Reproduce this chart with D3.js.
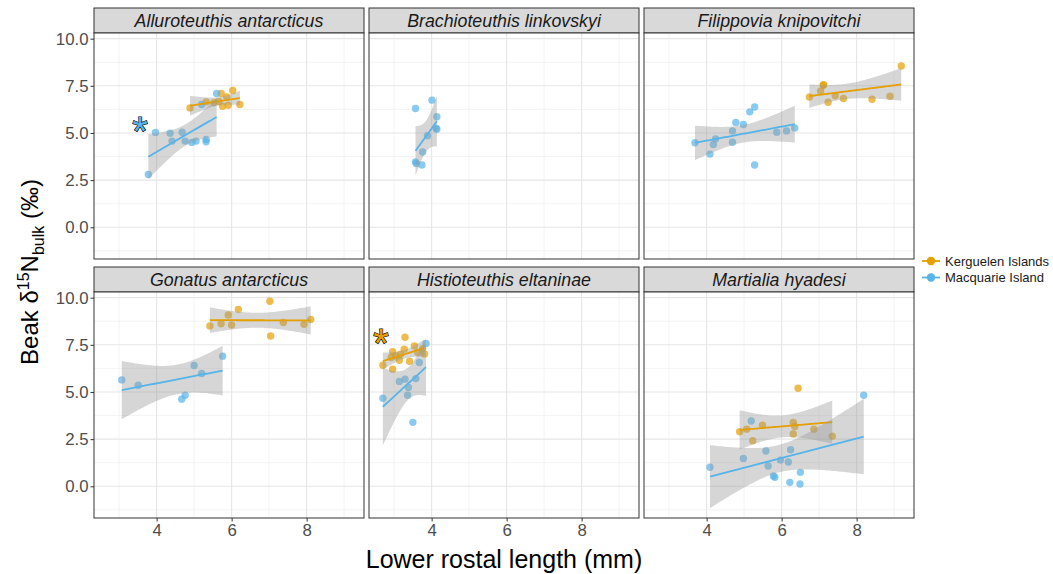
<!DOCTYPE html>
<html>
<head>
<meta charset="utf-8">
<script src="https://cdn.jsdelivr.net/npm/d3@7"></script>
<style>
  body { margin: 0; background: #fff; }
  text { font-family: "Liberation Sans", Arial, Helvetica, sans-serif; }
</style>
</head>
<body>
<svg></svg>
<script>
// ---- data ----
const species = ["Alluroteuthis antarcticus", "Brachioteuthis linkovskyi", "Filippovia knipovitchi",
                 "Gonatus antarcticus", "Histioteuthis eltaninae", "Martialia hyadesi"];
const regions = ["Kerguelen Islands", "Macquarie Island"];
const regionColors = ["#E69F00", "#56B4E9"];

const xTicks = [4, 6, 8];
const xMinor = [3, 5, 7, 9];
const yTicks = [0, 2.5, 5, 7.5, 10];
const yMinor = [-1.25, 1.25, 3.75, 6.25, 8.75];

// [lower rostral length, d15N]
const alluroKer = [[4.89,6.33],[5.32,6.65],[5.53,6.61],[5.72,7.09],[5.76,6.42],[5.87,6.91],[5.91,6.47],[6.03,7.25],[6.22,6.51],[5.66,6.67]];
const alluroMac = [[3.78,2.80],[3.97,5.03],[4.36,4.99],[4.41,4.57],[4.68,5.04],[4.76,4.57],[4.94,4.50],[5.05,4.57],[5.32,4.66],[5.32,4.53],[5.20,6.51],[5.60,7.09]];
const brachiMac = [[3.57,6.30],[4.01,6.74],[4.14,5.86],[4.14,5.20],[4.12,5.25],[3.89,4.85],[3.76,3.99],[3.57,3.47],[3.59,3.38],[3.74,3.30]];
const filippKer = [[6.74,6.91],[7.04,7.21],[7.12,7.56],[7.11,7.53],[7.24,6.63],[7.43,6.97],[7.65,6.83],[8.41,6.79],[8.89,6.95],[9.19,8.55]];
const filippMac = [[3.69,4.48],[4.09,3.88],[4.18,4.39],[4.24,4.69],[4.69,5.11],[4.69,4.51],[4.78,5.56],[4.98,5.45],[5.15,6.12],[5.28,6.38],[5.28,3.30],[5.87,5.04],[6.13,5.11],[6.35,5.27]];
const gonatKer = [[5.42,8.50],[5.72,8.62],[5.91,9.08],[6.00,8.55],[6.18,9.38],[7.02,9.81],[7.04,7.97],[7.38,8.68],[7.93,8.59],[8.11,8.84]];
const gonatMac = [[3.07,5.64],[3.51,5.36],[4.67,4.62],[4.76,4.83],[5.00,6.40],[5.20,5.98],[5.76,6.90]];
const histioKer = [[2.70,6.42],[2.96,6.21],[2.96,7.13],[2.92,6.83],[3.14,6.68],[3.17,7.00],[3.27,7.27],[3.29,7.90],[3.41,6.63],[3.54,7.44],[3.63,7.09],[3.76,7.30],[3.81,7.02],[3.04,6.91]];
const histioMac = [[2.70,4.67],[3.14,5.56],[3.29,5.68],[3.38,5.24],[3.36,4.83],[3.50,3.39],[3.58,5.71],[3.67,6.56],[3.85,7.57]];
const martiKer = [[4.88,2.89],[5.07,3.03],[5.23,2.42],[5.49,3.24],[6.31,3.39],[6.35,3.17],[6.31,2.77],[6.44,5.20],[6.86,3.03],[7.35,2.66]];
const martiMac = [[4.09,1.01],[4.98,1.48],[5.19,3.46],[5.58,1.87],[5.64,1.08],[5.78,0.55],[5.82,0.48],[5.97,1.39],[6.18,1.29],[6.24,1.94],[6.22,0.21],[6.49,0.12],[6.50,0.74],[8.19,4.83]];

const panelData = [
  [alluroKer, alluroMac], [[], brachiMac], [filippKer, filippMac],
  [gonatKer, gonatMac], [histioKer, histioMac], [martiKer, martiMac]
];

// significance markers: panel index, region index, position
const stars = [[0, 1, 3.56, 5.5], [4, 0, 2.65, 7.97]];

// ---- layout ----
const W = 1053, H = 574;
const panelW = 270, panelH = 226, stripH = 25;
const colX = [94, 369, 644];
const rowY = [33, 292];

const svg = d3.select("svg").attr("width", W).attr("height", H);
svg.append("rect").attr("width", W).attr("height", H).attr("fill", "#fff");

const x = d3.scaleLinear().domain([2.33, 9.53]).range([0, panelW]);
const y = d3.scaleLinear().domain([-1.68, 10.3]).range([panelH, 0]);

// 97.5% t quantiles, df = 1..30
const tq = [12.706,4.303,3.182,2.776,2.571,2.447,2.365,2.306,2.262,2.228,2.201,2.179,2.160,2.145,2.131,
            2.120,2.110,2.101,2.093,2.086,2.080,2.074,2.069,2.064,2.060,2.056,2.052,2.048,2.045,2.042];

function lmBand(pts) {
  const n = pts.length;
  const mx = d3.mean(pts, d => d[0]), my = d3.mean(pts, d => d[1]);
  const sxx = d3.sum(pts, d => (d[0] - mx) ** 2);
  const sxy = d3.sum(pts, d => (d[0] - mx) * (d[1] - my));
  const b = sxy / sxx, a = my - b * mx;
  const s = Math.sqrt(d3.sum(pts, d => (d[1] - a - b * d[0]) ** 2) / (n - 2));
  const t = tq[n - 3];
  const [x0, x1] = d3.extent(pts, d => d[0]);
  return d3.range(81).map(i => {
    const xv = x0 + (x1 - x0) * i / 80;
    const fit = a + b * xv;
    const se = s * Math.sqrt(1 / n + (xv - mx) ** 2 / sxx);
    return { x: xv, fit: fit, lo: fit - t * se, hi: fit + t * se };
  });
}

species.forEach(function(name, i) {
  const col = i % 3, row = Math.floor(i / 3);
  const g = svg.append("g").attr("transform", `translate(${colX[col]},${rowY[row]})`);

  // strip
  g.append("rect").attr("x", 0).attr("y", -stripH).attr("width", panelW).attr("height", stripH)
    .attr("fill", "#d9d9d9").attr("stroke", "#333").attr("stroke-width", 1);
  g.append("text").attr("x", panelW / 2).attr("y", -stripH / 2).attr("dy", "0.36em")
    .attr("text-anchor", "middle").attr("font-size", 17.8).attr("font-style", "italic")
    .attr("fill", "#1a1a1a").text(name);

  // grid
  g.append("rect").attr("width", panelW).attr("height", panelH).attr("fill", "#fff");
  g.selectAll(".vmin").data(xMinor).enter().append("line")
    .attr("x1", d => x(d)).attr("x2", d => x(d)).attr("y1", 0).attr("y2", panelH)
    .attr("stroke", "#ebebeb").attr("stroke-width", 0.6);
  g.selectAll(".hmin").data(yMinor).enter().append("line")
    .attr("y1", d => y(d)).attr("y2", d => y(d)).attr("x1", 0).attr("x2", panelW)
    .attr("stroke", "#ebebeb").attr("stroke-width", 0.6);
  g.selectAll(".vmaj").data(xTicks).enter().append("line")
    .attr("x1", d => x(d)).attr("x2", d => x(d)).attr("y1", 0).attr("y2", panelH)
    .attr("stroke", "#e6e6e6").attr("stroke-width", 1.1);
  g.selectAll(".hmaj").data(yTicks).enter().append("line")
    .attr("y1", d => y(d)).attr("y2", d => y(d)).attr("x1", 0).attr("x2", panelW)
    .attr("stroke", "#e6e6e6").attr("stroke-width", 1.1);

  const groups = panelData[i];

  // points
  groups.forEach(function(pts, r) {
    g.selectAll(null).data(pts).enter().append("circle")
      .attr("cx", d => x(d[0])).attr("cy", d => y(d[1])).attr("r", 3.7)
      .attr("fill", regionColors[r]).attr("fill-opacity", 0.7);
  });

  // smooths
  groups.forEach(function(pts, r) {
    if (pts.length < 3) return;
    const band = lmBand(pts);
    g.append("path").datum(band)
      .attr("d", d3.area().x(d => x(d.x)).y0(d => y(d.lo)).y1(d => y(d.hi)))
      .attr("fill", "#999999").attr("fill-opacity", 0.4);
    g.append("path").datum(band)
      .attr("d", d3.line().x(d => x(d.x)).y(d => y(d.fit)))
      .attr("fill", "none").attr("stroke", regionColors[r]).attr("stroke-width", 1.8);
  });

  // stars
  stars.filter(s => s[0] === i).forEach(function(s) {
    g.append("text").attr("x", x(s[2])).attr("y", y(s[3]) + 21)
      .attr("text-anchor", "middle").attr("font-size", 40)
      .attr("fill", regionColors[s[1]]).attr("stroke", "#000").attr("stroke-width", 1.2)
      .attr("paint-order", "stroke").text("*");
  });

  // border
  g.append("rect").attr("width", panelW).attr("height", panelH)
    .attr("fill", "none").attr("stroke", "#333").attr("stroke-width", 1);

  // axes
  if (col === 0) {
    const ay = g.append("g").call(d3.axisLeft(y).tickValues(yTicks).tickFormat(d3.format(".1f")).tickSize(3.5).tickPadding(2));
    ay.select(".domain").remove();
    ay.selectAll("line").attr("stroke", "#333");
    ay.selectAll("text").attr("font-size", 16.8).attr("fill", "#4d4d4d").attr("font-family", null);
  }
  if (row === 1) {
    const ax = g.append("g").attr("transform", `translate(0,${panelH})`)
      .call(d3.axisBottom(x).tickValues(xTicks).tickSize(3.5).tickPadding(3));
    ax.select(".domain").remove();
    ax.selectAll("line").attr("stroke", "#333");
    ax.selectAll("text").attr("font-size", 16.8).attr("fill", "#4d4d4d").attr("font-family", null);
  }
});

// axis titles
svg.append("text").attr("x", (colX[0] + colX[2] + panelW) / 2).attr("y", 568)
  .attr("text-anchor", "middle").attr("font-size", 25).attr("fill", "#000")
  .text("Lower rostal length (mm)");

const yt = svg.append("text").attr("transform", "translate(38,272) rotate(-90)")
  .attr("text-anchor", "middle").attr("font-size", 24).attr("fill", "#000");
yt.append("tspan").text("Beak \u03b4");
yt.append("tspan").attr("font-size", 16).attr("dy", -9).text("15");
yt.append("tspan").attr("dy", 9).text("N");
yt.append("tspan").attr("font-size", 16).attr("dy", 6).text("bulk");
yt.append("tspan").attr("dy", -6).text(" (\u2030)");

// legend
const leg = svg.append("g").attr("transform", "translate(922,261)");
regions.forEach(function(name, r) {
  const k = leg.append("g").attr("transform", `translate(0,${r * 16.5})`);
  k.append("line").attr("x1", 0).attr("x2", 18).attr("stroke", regionColors[r]).attr("stroke-width", 1.8);
  k.append("circle").attr("cx", 9).attr("r", 4.2).attr("fill", regionColors[r]);
  k.append("text").attr("x", 23).attr("dy", "0.35em").attr("font-size", 13).attr("fill", "#1a1a1a").text(name);
});
</script>
</body>
</html>
